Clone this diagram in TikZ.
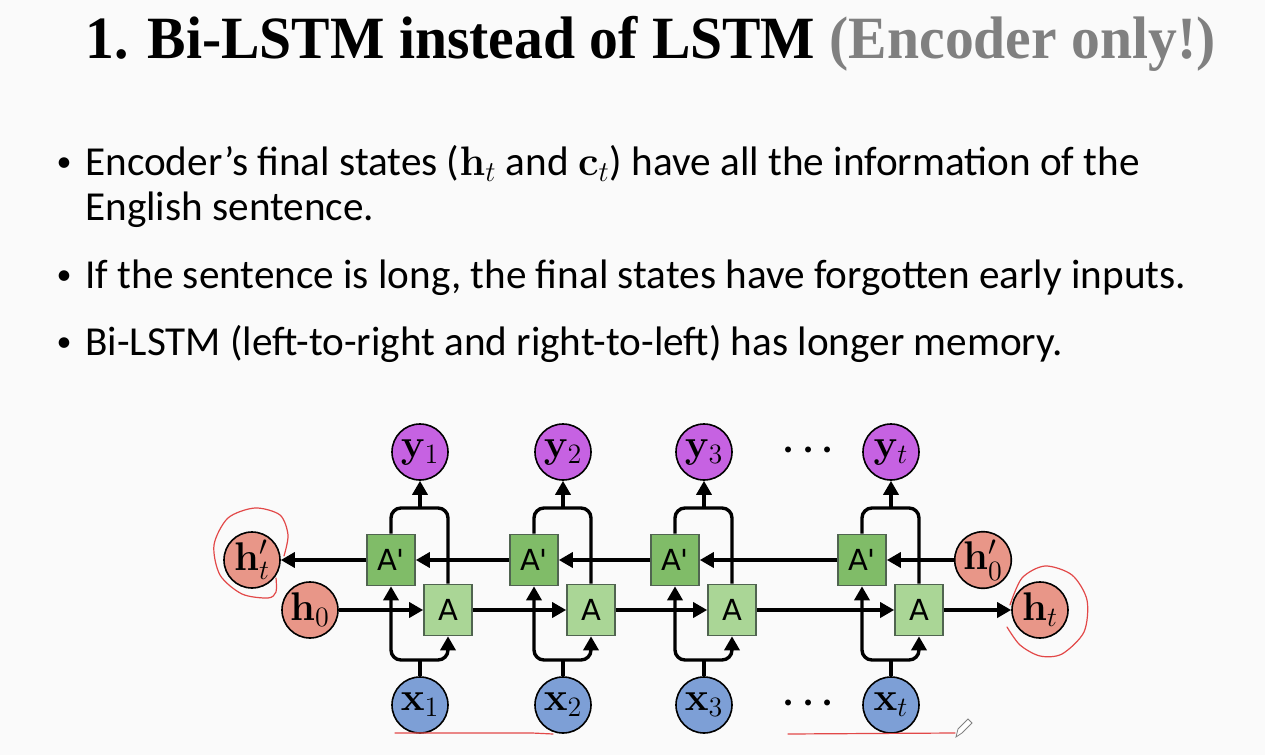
\RequirePackage{fix-cm}
\documentclass[tikz,border=0pt]{standalone}
\usepackage[no-math]{fontspec}
\usepackage{amsmath}
\usepackage{graphicx}
\setmainfont{Carlito}
\newfontfamily\titlefont{Liberation Serif}
\newfontfamily\cellfont{DejaVu Sans}
\usetikzlibrary{arrows.meta, positioning}
\definecolor{ycol}{RGB}{198,98,226}
\definecolor{xcol}{RGB}{125,159,214}
\definecolor{hcol}{RGB}{232,150,136}
\definecolor{apbox}{RGB}{128,188,104}
\definecolor{abox}{RGB}{170,214,150}
\definecolor{boxline}{RGB}{80,100,80}
\definecolor{penred}{RGB}{226,72,72}
\definecolor{slidebg}{RGB}{250,250,250}
\colorlet{subtitle}{black!50}
\newcommand{\bodysize}{\fontsize{20.6}{24}\selectfont}

\begin{document}
\begin{tikzpicture}[x=0.5pt, y=-0.5pt, >={Triangle[length=7pt,width=7.5pt]},
    ball/.style={circle, draw=black, line width=0.8pt, minimum size=28pt, inner sep=0pt, font=\fontsize{20}{20}\selectfont},
    ycell/.style={ball, fill=ycol},
    xcell/.style={ball, fill=xcol},
    hcell/.style={ball, fill=hcol},
    gate/.style={draw=boxline, line width=0.8pt, minimum width=24pt, minimum height=25.5pt, inner sep=0pt, font=\cellfont\fontsize{14.5}{14.5}\selectfont},
    apcell/.style={gate, fill=apbox},
    acell/.style={gate, fill=abox},
    link/.style={line width=1.7pt, rounded corners=5pt},
    pen/.style={draw=penred, line width=0.6pt, line cap=round}]
  \fill[slidebg] (0,0) rectangle (1265,755);
  \useasboundingbox (0,0) rectangle (1265,755);

  % title and bullets
  \node[anchor=base west, inner sep=0pt] (title) at (85,58)
    {\resizebox{565pt}{\height}{\titlefont\bfseries\fontsize{30}{36}\selectfont 1. Bi-LSTM instead of LSTM \textcolor{subtitle}{(Encoder only!)}}};
  \node[inner sep=0pt] (b1) at (64,165) {\fontsize{15}{15}\selectfont\textbullet};
  \node[inner sep=0pt] (b2) at (64,278) {\fontsize{15}{15}\selectfont\textbullet};
  \node[inner sep=0pt] (b3) at (64,345) {\fontsize{15}{15}\selectfont\textbullet};
  \node[anchor=base west, inner sep=0pt] (l1) at (85,175)
    {\bodysize Encoder’s final states ($\mathbf{h}_t$ and $\mathbf{c}_t$) have all the information of the};
  \node[anchor=base west, inner sep=0pt] (l2) at (85,220)
    {\bodysize English sentence.};
  \node[anchor=base west, inner sep=0pt] (l3) at (85,288)
    {\bodysize If the sentence is long, the final states have forgotten early inputs.};
  \node[anchor=base west, inner sep=0pt] (l4) at (85,355)
    {\bodysize Bi-LSTM (left-to-right and right-to-left) has longer memory.};

  % one column per time step
  \foreach \i/\cx in {1/420, 2/563, 3/704, t/891} {
    \node[ycell] (y\i) at (\cx,452) {$\mathbf{y}_{\i}$};
    \node[xcell] (x\i) at (\cx,705) {$\mathbf{x}_{\i}$};
    \node[apcell] (ap\i) at (\cx-29,560) {A'};
    \node[acell] (a\i) at (\cx+28,610) {A};
    \coordinate (top\i) at (\cx,508);
    \coordinate (bot\i) at (\cx,660);
    \draw[link] (ap\i.north) |- (top\i) -| (a\i.north);
    \draw[link, ->] (top\i) -- (y\i);
    \draw[link, <->] (ap\i.south) |- (bot\i) -| (a\i.south);
    \draw[link] (x\i) -- (bot\i);
  }
  \node (dtop) at (812,450) {\fontsize{19}{19}\selectfont$\boldsymbol{\cdots}$};
  \node (dbot) at (812,703) {\fontsize{19}{19}\selectfont$\boldsymbol{\cdots}$};

  % states
  \node[hcell] (h0) at (310,610) {$\mathbf{h}_0$};
  \node[hcell] (hpt) at (252,560) {$\mathbf{h}'_t$};
  \node[hcell] (hp0) at (983,560) {$\mathbf{h}'_0$};
  \node[hcell] (ht) at (1040,610) {$\mathbf{h}_t$};

  \draw[link, ->] (h0) -- (a1);
  \draw[link, ->] (a1) -- (a2);
  \draw[link, ->] (a2) -- (a3);
  \draw[link, ->] (a3) -- (at);
  \draw[link, ->] (at) -- (ht);
  \draw[link, ->] (hp0) -- (apt);
  \draw[link, ->] (apt) -- (ap3);
  \draw[link, ->] (ap3) -- (ap2);
  \draw[link, ->] (ap2) -- (ap1);
  \draw[link, ->] (ap1) -- (hpt);

  % pen marks
  \draw[pen] plot[smooth] coordinates {(284,556) (288,535) (280,515) (255,508) (228,518) (214,545) (220,575) (242,594) (268,598) (276,592) (276,578)};
  \draw[pen] plot[smooth] coordinates {(1010,605) (1022,578) (1045,566) (1072,575) (1087,600) (1084,632) (1062,654) (1040,656) (1020,645) (1007,627)};
  \draw[pen] (395,733) -- (532,733) -- (553,734);
  \draw[pen] (788,734) -- (955,733);
  \draw[gray, line width=0.4pt, fill=white] (956,737) -- (958,729) -- (968,719) -- (972,723) -- (962,733) -- cycle;
\end{tikzpicture}
\end{document}
